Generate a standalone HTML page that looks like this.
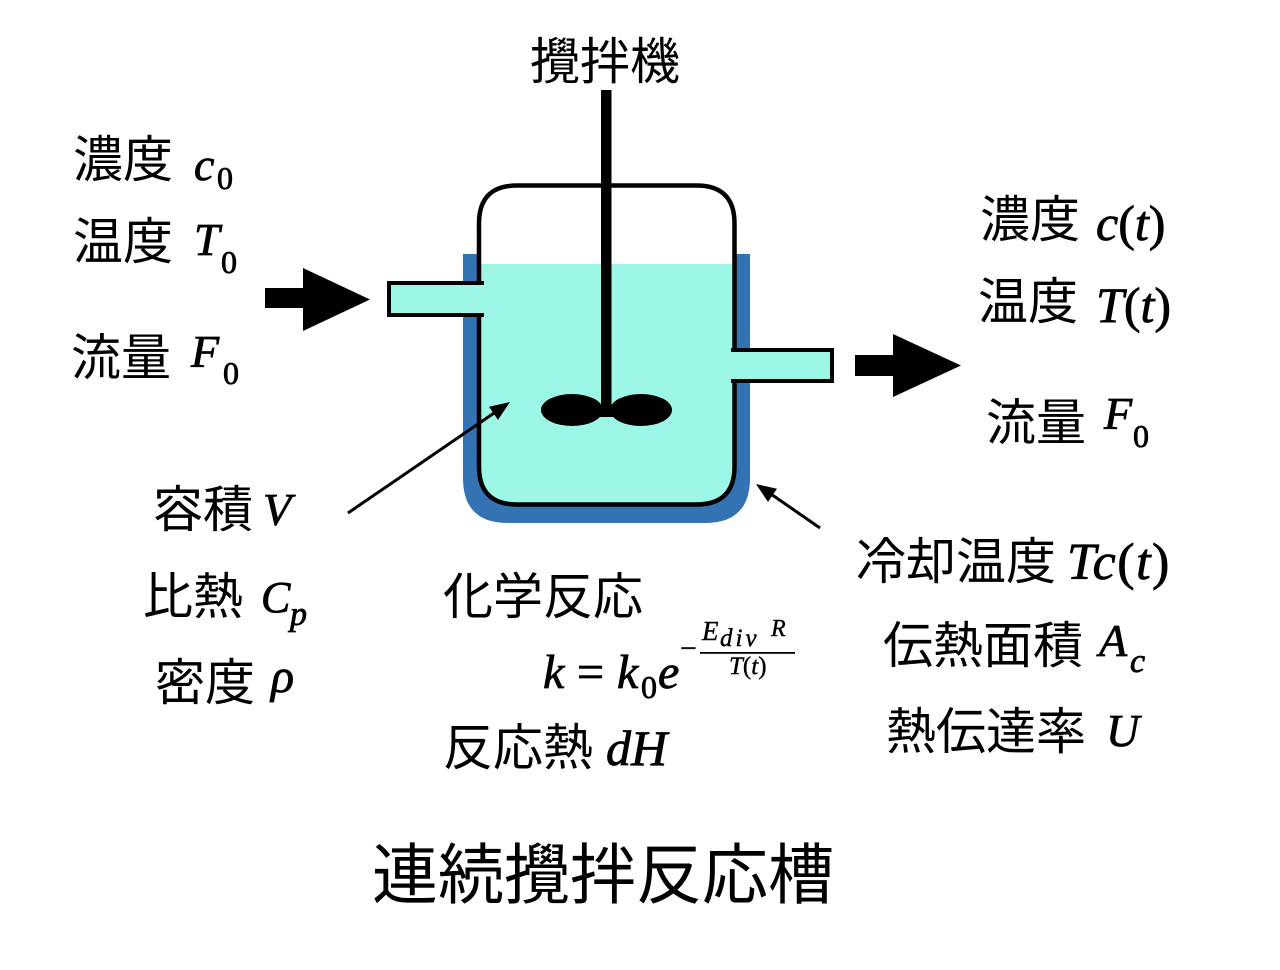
<!DOCTYPE html>
<html><head><meta charset="utf-8"><style>
html,body{margin:0;padding:0;background:#fff;}
svg{display:block;}
.j{font-family:"Liberation Sans","Noto Sans CJK JP",sans-serif;font-size:50px;fill:#000;}
.m{font-family:"Liberation Serif",serif;font-style:italic;font-weight:normal;fill:#000;stroke:#000;stroke-width:0.8px;}
.r{font-family:"Liberation Serif",serif;font-style:normal;font-weight:normal;fill:#000;stroke:#000;stroke-width:0.8px;}
.t{stroke-width:0.4px;}
</style></head><body>
<svg width="1280" height="970" viewBox="0 0 1280 970" xmlns="http://www.w3.org/2000/svg">
<rect width="1280" height="970" fill="#fff"/>
<!-- jacket -->
<path d="M463,254 H750 V478 Q750,523 705,523 H508 Q463,523 463,478 Z" fill="#3473b3"/>
<!-- vessel interior -->
<path d="M479,223.5 Q479,185.5 517,185.5 H696.5 Q734.5,185.5 734.5,223.5 V466.5 Q734.5,504.5 696.5,504.5 H517 Q479,504.5 479,466.5 Z" fill="#fff"/>
<!-- liquid -->
<path d="M479,264 H734.5 V466.5 Q734.5,504.5 696.5,504.5 H517 Q479,504.5 479,466.5 Z" fill="#9cf7e6"/>
<!-- vessel outline -->
<path d="M479,223.5 Q479,185.5 517,185.5 H696.5 Q734.5,185.5 734.5,223.5 V466.5 Q734.5,504.5 696.5,504.5 H517 Q479,504.5 479,466.5 Z" fill="none" stroke="#000" stroke-width="4.5"/>
<!-- left pipe -->
<rect x="389" y="283" width="96" height="32" fill="#9cf7e6"/>
<rect x="474" y="285" width="12" height="28" fill="#9cf7e6"/>
<path d="M484,283 H389 V315 H484" fill="none" stroke="#000" stroke-width="4"/>
<!-- right pipe -->
<rect x="729" y="350" width="103" height="31" fill="#9cf7e6"/>
<path d="M731,350 H832 V381 H731" fill="none" stroke="#000" stroke-width="4"/>
<!-- shaft & impeller -->
<rect x="601" y="90" width="10.5" height="327" fill="#000"/>
<ellipse cx="572" cy="410" rx="31" ry="16" fill="#000"/>
<ellipse cx="641" cy="410" rx="31" ry="16" fill="#000"/>
<rect x="595" y="406" width="22" height="11" fill="#000"/>
<!-- thin arrows -->
<line x1="348" y1="513" x2="497" y2="411" stroke="#000" stroke-width="3"/>
<polygon points="510,402 498,419.9 489,406.7" fill="#000"/>
<line x1="820" y1="528" x2="768" y2="492" stroke="#000" stroke-width="3"/>
<polygon points="756,484 777,488.7 768,501.9" fill="#000"/>
<!-- big arrows -->
<rect x="265" y="288" width="40" height="20" fill="#000"/>
<polygon points="303,268 370,299.5 303,331" fill="#000"/>
<rect x="855" y="355" width="40" height="21" fill="#000"/>
<polygon points="893,334 961,365.5 893,397" fill="#000"/>

<!-- top label -->
<text class="j" x="530" y="79">攪拌機</text>

<!-- left inlet labels -->
<text class="j" x="73" y="177">濃度</text>
<text class="m" x="194" y="180" font-size="46">c</text>
<text class="r" x="217" y="189" font-size="32">0</text>

<text class="j" x="73" y="259">温度</text>
<text class="m" x="194" y="255" font-size="46">T</text>
<text class="r" x="221" y="273" font-size="32">0</text>

<text class="j" x="71" y="375">流量</text>
<text class="m" x="191" y="367" font-size="46">F</text>
<text class="r" x="223" y="384" font-size="32">0</text>

<!-- right outlet labels -->
<text class="j" x="980" y="237">濃度</text>
<text class="r" x="1096" y="240" font-size="50"><tspan class="m">c</tspan>(<tspan class="m">t</tspan>)</text>

<text class="j" x="978" y="319">温度</text>
<text class="r" x="1096" y="322" font-size="50"><tspan class="m">T</tspan>(<tspan class="m">t</tspan>)</text>

<text class="j" x="986" y="440">流量</text>
<text class="m" x="1104" y="429" font-size="46">F</text>
<text class="r" x="1133" y="447" font-size="32">0</text>

<!-- left lower labels -->
<text class="j" x="153" y="527">容積</text>
<text class="m" x="263" y="525" font-size="46">V</text>

<text class="j" x="143" y="614">比熱</text>
<text class="m" x="261" y="612" font-size="44">C</text>
<text class="m" x="290" y="625" font-size="34">p</text>

<text class="j" x="155" y="700">密度</text>
<text class="m" x="271" y="692" font-size="48">ρ</text>

<!-- center labels -->
<text class="j" x="443" y="614">化学反応</text>
<text class="m" x="543" y="688" font-size="48">k</text>
<text class="r" x="577" y="688" font-size="48">=</text>
<text class="m" x="617" y="688" font-size="48">k</text>
<text class="r" x="641" y="698" font-size="32">0</text>
<text class="m" x="658" y="688" font-size="48">e</text>
<text class="r t" x="680" y="658" font-size="30">−</text>
<text class="m t" x="702" y="640" font-size="27">E</text>
<text class="m t" x="720" y="646" font-size="25" letter-spacing="3">div</text>
<text class="m t" x="771" y="636" font-size="24">R</text>
<rect x="700" y="652" width="95" height="1.8" fill="#000"/>
<text class="r t" x="729" y="674" font-size="25"><tspan class="m t">T</tspan>(<tspan class="m t">t</tspan>)</text>

<text class="j" x="443" y="765">反応熱</text>
<text class="m" x="606" y="765" font-size="50">dH</text>

<!-- right lower labels -->
<text class="j" x="856" y="579">冷却温度</text>
<text class="r" x="1067" y="579" font-size="52" letter-spacing="1.5"><tspan class="m">Tc</tspan>(<tspan class="m">t</tspan>)</text>

<text class="j" x="883" y="663">伝熱面積</text>
<text class="m" x="1099" y="656" font-size="46">A</text>
<text class="m" x="1130" y="672" font-size="34">c</text>

<text class="j" x="886" y="749">熱伝達率</text>
<text class="m" x="1106" y="746" font-size="46">U</text>

<!-- title -->
<text class="j" x="372" y="898" style="font-size:66px">連続攪拌反応槽</text>
</svg>
</body></html>
